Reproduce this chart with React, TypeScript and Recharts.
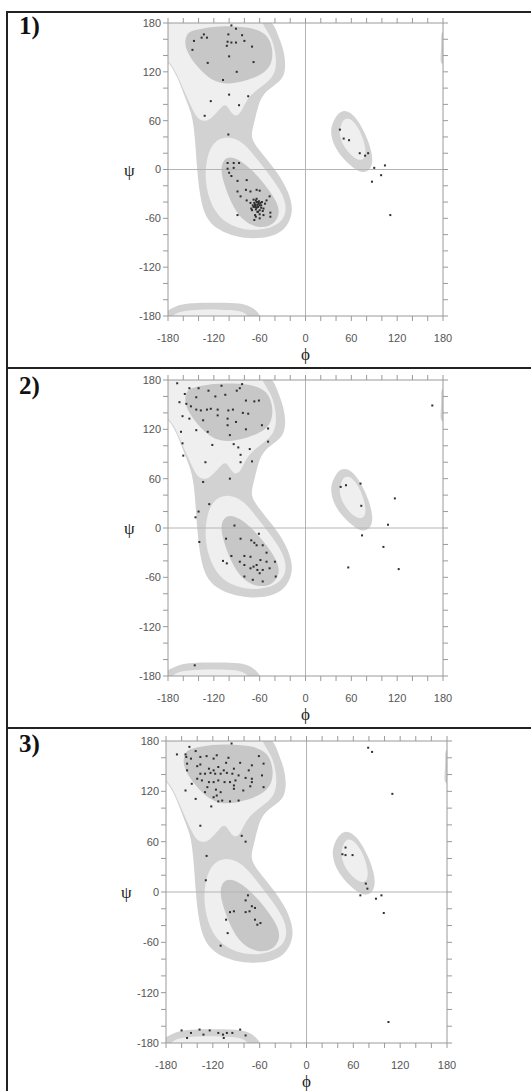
import React from 'react';
import { ScatterChart, Scatter, XAxis, YAxis, ReferenceLine } from 'recharts';

// ---------- axis ticks ----------
const angleTicks = [-180, -160, -140, -120, -100, -80, -60, -40, -20, 0, 20, 40, 60, 80, 100, 120, 140, 160, 180];
const labelledTicks = [-180, -120, -60, 0, 60, 120, 180];
const panelTags = ['1)', '2)', '3)'];

// ---------- Ramachandran region outlines (phi, psi) ----------
const leftOuter = [
  [-200, 200], [-50, 200], [-36, 165], [-29, 149], [-25.5, 128], [-29, 112], [-40, 104], [-55, 94], [-62, 79],
  [-66, 62], [-70, 48], [-71, 38], [-62, 25], [-44, 5], [-28, -16], [-18, -38], [-17, -56], [-27, -75], [-48, -84],
  [-75, -85], [-97, -81], [-117, -73], [-131, -59], [-138, -35], [-142, 0], [-144, 30], [-146, 50], [-149, 69],
  [-158, 89], [-166, 110], [-177, 130], [-190, 140], [-200, 145],
];
const betaLight = [
  [-200, 200], [-62, 200], [-58, 180], [-46, 165], [-40, 149], [-37.5, 128], [-43, 112], [-58, 102], [-71, 92],
  [-79, 82], [-84, 71], [-90, 65], [-96, 68], [-101, 76], [-105, 80], [-110, 77], [-118, 68], [-126, 61], [-133, 59],
  [-141, 62], [-147, 72], [-155, 88], [-164, 108], [-172, 124], [-180, 134], [-194, 144], [-200, 150],
];
const betaCore = [
  [-147, 171], [-121, 176], [-94, 176], [-67, 174], [-50, 166], [-43, 150], [-43, 132], [-53, 118], [-77, 109],
  [-103, 104], [-122, 109], [-138, 122], [-153, 140], [-159, 155], [-155, 168],
];
const alphaLight = [
  [-103, 42], [-81, 34], [-63, 12], [-45, -9], [-29, -31], [-24, -50], [-32, -67], [-60, -76], [-92, -72],
  [-114, -59], [-127, -36], [-132, -9], [-129, 16], [-121, 34],
];
const alphaCore = [
  [-104, 17], [-87, 13], [-68, -2], [-50, -22], [-37, -40], [-33, -56], [-44, -70], [-64, -72], [-84, -62],
  [-98, -40], [-107, -17], [-112, 3],
];
const rightOuter = [
  [47, 72], [40, 66], [34, 54], [33, 44], [37, 30], [45, 18], [56, 7], [67, -1], [76, -4], [84, -1], [88, 8],
  [87, 20], [82, 36], [74, 52], [64, 66], [55, 72],
];
const rightLight = [
  [50, 62], [46, 54], [44, 44], [48, 32], [55, 22], [64, 14], [72, 11], [78, 14], [79, 24], [76, 36], [70, 50],
  [62, 60], [56, 63],
];
const bottomOuter = [
  [-192, -200], [-190, -178], [-176, -171], [-165, -166], [-150, -164], [-120, -163.5], [-90, -164], [-75, -166.5],
  [-66, -172], [-58, -180], [-52, -200],
];
const bottomLight = [
  [-182, -200], [-176, -180], [-165, -174], [-140, -172], [-110, -172], [-86, -173], [-73, -179], [-67, -200],
];
const edgeSliver = [
  [177, 172], [178, 158], [177, 140], [176, 128], [192, 128], [192, 172],
];

// ---------- residues (phi, psi) ----------
const panel1Residues = [
  [-97, 177], [-91, 173], [-133, 166], [-136, 162], [-129, 162], [-146, 158], [-101, 166], [-83, 165], [-80, 158],
  [-102, 157], [-103, 152], [-91, 156], [-97, 156], [-148, 147], [-70, 151], [-100, 139], [-128, 131], [-68, 132],
  [-90, 120], [-108, 110], [-100, 92], [-75, 90], [-124, 84], [-87, 79], [-132, 66], [-101, 43],
  [-102, 8], [-94, 8], [-87, 8], [-102, 1], [-94, 2], [-100, -4], [-89, -14], [-77, -13], [-97, -8], [-89, -27],
  [-78, -25], [-85, -33], [-72, -27], [-64, -25], [-60, -26], [-47, -33], [-77, -38], [-68, -37], [-64, -40],
  [-66, -44], [-62, -46], [-60, -50], [-55, -48], [-70, -50], [-66, -56], [-55, -56], [-46, -53], [-46, -58],
  [-67, -62], [-60, -60], [-89, -56], [-53, -42], [-51, -38], [-72, -41], [-68, -46], [-63, -52], [-58, -44],
  [-65, -49], [-62, -40], [-65, -38], [-60, -44], [-66, -46], [-63, -43], [-61, -39], [-67, -41], [-58, -47],
  [-64, -36], [-62, -52], [-57, -40], [-69, -44], [-71, -48], [-56, -51], [-60, -55], [-65, -58], [-63, -45],
  [-61, -42], [-64, -47], [-59, -41], [-66, -43],
  [45, 49], [50, 38], [57, 36], [71, 20], [78, 17], [82, 20], [90, 2], [104, 5], [99, -7], [87, -15], [111, -56],
];
const panel2Residues = [
  [-168, 176], [-152, 170], [-140, 170], [-110, 173], [-83, 175], [-86, 170], [-90, 167], [-158, 163], [-143, 159],
  [-127, 167], [-118, 160], [-105, 162], [-78, 155], [-67, 154], [-61, 155], [-165, 153], [-156, 151], [-150, 148],
  [-143, 144], [-137, 143], [-129, 144], [-124, 145], [-115, 144], [-101, 143], [-95, 144], [-82, 140], [-75, 139],
  [-161, 136], [-152, 133], [-134, 131], [-115, 137], [-102, 133], [-91, 129], [-102, 125], [-78, 120], [-57, 125],
  [-49, 121], [-143, 119], [-128, 117], [-99, 113], [-122, 101], [-94, 102], [-88, 98], [-73, 96], [-163, 117],
  [-161, 103], [-160, 88], [-49, 105], [-85, 89], [-85, 80], [-70, 81], [-131, 80], [-99, 60], [-134, 56],
  [-126, 29], [-140, 20], [-144, 13], [-139, -17],
  [-93, 3], [-104, -13], [-85, -13], [-71, -15], [-67, -18], [-61, -7], [-64, -21], [-56, -21], [-97, -34],
  [-80, -34], [-72, -35], [-51, -30], [-108, -40], [-103, -43], [-86, -41], [-80, -45], [-64, -45], [-59, -39],
  [-51, -41], [-40, -41], [-47, -49], [-63, -51], [-60, -55], [-80, -59], [-69, -63], [-56, -65], [-39, -59],
  [-68, -47], [-56, -51], [-72, -49],
  [46, 50], [53, 52], [72, 54], [73, 27], [74, -9], [117, 36], [108, 4], [102, -23], [122, -50], [56, -48],
  [166, 149], [-145, -167],
];
const panel3Residues = [
  [-150, 173], [-166, 164], [-155, 164], [-154, 161], [-148, 159], [-142, 168], [-136, 161], [-128, 162], [-115, 163],
  [-100, 160], [-85, 154], [-70, 151], [-55, 153], [-153, 153], [-140, 150], [-136, 152], [-125, 147], [-119, 145],
  [-113, 149], [-106, 145], [-93, 147], [-74, 145], [-136, 141], [-130, 141], [-123, 142], [-117, 141], [-110, 141],
  [-102, 142], [-95, 141], [-87, 139], [-78, 136], [-70, 135], [-57, 139], [-140, 135], [-134, 133], [-125, 131],
  [-119, 131], [-113, 133], [-105, 131], [-98, 131], [-91, 133], [-70, 131], [-55, 125], [-147, 129], [-127, 125],
  [-116, 122], [-110, 119], [-93, 123], [-81, 121], [-72, 126], [-155, 121], [-142, 111], [-115, 115], [-108, 109],
  [-98, 108], [-87, 109], [-122, 102], [-113, 108], [-136, 79], [-83, 67], [-78, 60], [-128, 43], [-129, 14],
  [-96, 177], [-61, 162], [-119, 159], [-103, 154], [-153, 145], [-93, 127], [-130, 119], [-119, 113],
  [-75, -4], [-78, -10], [-70, -17], [-66, -19], [-73, -23], [-78, -24], [-93, -23], [-98, -24], [-103, -33],
  [-66, -33], [-59, -37], [-63, -39], [-101, -49], [-110, -64],
  [50, 53], [46, 45], [50, 44], [59, 44], [76, 10], [78, 4], [69, -4], [89, -8], [96, -4], [99, -25],
  [79, 172], [84, 167], [110, 117], [105, -155],
  [-160, -165], [-153, -174], [-148, -168], [-137, -164], [-132, -170], [-124, -165], [-113, -168], [-107, -170],
  [-102, -168], [-95, -168], [-85, -164], [-78, -171], [-106, -174],
];

// ---------- build records ----------
type Pt = { phi: number; psi: number };
const toPts = (arr: number[][]): Pt[] => arr.map(([phi, psi]) => ({ phi, psi }));

const OUTER = '#d2d2d2';
const LIGHT = '#efefef';
const CORE = '#c7c7c7';

const regions = [
  { name: 'leftOuter', data: toPts(leftOuter), color: OUTER },
  { name: 'bottomOuter', data: toPts(bottomOuter), color: OUTER },
  { name: 'rightOuter', data: toPts(rightOuter), color: OUTER },
  { name: 'edgeSliver', data: toPts(edgeSliver), color: OUTER },
  { name: 'betaLight', data: toPts(betaLight), color: LIGHT },
  { name: 'alphaLight', data: toPts(alphaLight), color: LIGHT },
  { name: 'rightLight', data: toPts(rightLight), color: LIGHT },
  { name: 'bottomLight', data: toPts(bottomLight), color: LIGHT },
  { name: 'betaCore', data: toPts(betaCore), color: CORE },
  { name: 'alphaCore', data: toPts(alphaCore), color: CORE },
];

const panels = [
  { tag: panelTags[0], residues: toPts(panel1Residues), top: 0, height: 365, tagTop: 13,
    margin: { top: 18, right: 78, bottom: 9, left: 128 }, psiOffset: -4 },
  { tag: panelTags[1], residues: toPts(panel2Residues), top: 360, height: 365, tagTop: 373,
    margin: { top: 15, right: 78, bottom: 9, left: 128 }, psiOffset: -4 },
  { tag: panelTags[2], residues: toPts(panel3Residues), top: 720, height: 371, tagTop: 731,
    margin: { top: 16, right: 74, bottom: 8, left: 126 }, psiOffset: -5 },
];

const fmt = (v: number) => (labelledTicks.includes(v) ? String(v) : '');
const blank = () => '';
const tickStyle = { fill: '#555', fontSize: 11, fontFamily: 'Liberation Sans, Arial, sans-serif' };
const greekStyle = { fill: '#222', fontSize: 17, fontFamily: 'Liberation Serif, DejaVu Serif, serif' };

const NoShape = () => <g />;
const ResidueDot = (props: any) => (
  <rect x={props.cx - 1} y={props.cy - 1} width={2} height={2} fill="#2e2e2e" />
);

function Panel(p: (typeof panels)[number]) {
  return (
    <div style={{ position: 'absolute', left: 0, top: p.top, width: 531, height: p.height }}>
      <ScatterChart width={531} height={p.height} margin={p.margin}>
        <XAxis
          xAxisId="b" type="number" dataKey="phi" domain={[-180, 180]} allowDataOverflow ticks={angleTicks}
          interval={0} tickFormatter={fmt} height={40} tickSize={5} tickMargin={13} stroke="#9a9a9a" tick={tickStyle}
          label={{ value: 'ϕ', position: 'insideBottom', offset: -4, ...greekStyle }}
        />
        <XAxis
          xAxisId="t" orientation="top" type="number" dataKey="phi" domain={[-180, 180]} allowDataOverflow
          ticks={angleTicks} interval={0} tickFormatter={blank} height={5} tickSize={5} stroke="#9a9a9a" tick={tickStyle}
        />
        <YAxis
          yAxisId="l" type="number" dataKey="psi" domain={[-180, 180]} allowDataOverflow ticks={angleTicks}
          interval={0} tickFormatter={fmt} width={40} tickSize={5} tickMargin={2} stroke="#9a9a9a" tick={tickStyle}
          label={{ value: 'ψ', position: 'insideLeft', offset: p.psiOffset, ...greekStyle }}
        />
        <YAxis
          yAxisId="r" orientation="right" type="number" dataKey="psi" domain={[-180, 180]} allowDataOverflow
          ticks={angleTicks} interval={0} tickFormatter={blank} width={10} tickSize={5} stroke="#9a9a9a" tick={tickStyle}
        />
        {regions.map((r) => (
          <Scatter
            key={r.name} name={r.name} xAxisId="b" yAxisId="l" data={r.data} dataKey="psi" fill={r.color}
            line={{ fill: r.color, stroke: 'none' }} lineType="joint" lineJointType="basisClosed"
            shape={NoShape} isAnimationActive={false} zIndex={100}
          />
        ))}
        <ReferenceLine xAxisId="b" yAxisId="l" x={0} stroke="#b4b4b4" strokeWidth={1} zIndex={450} />
        <ReferenceLine xAxisId="b" yAxisId="l" y={0} stroke="#b4b4b4" strokeWidth={1} zIndex={450} />
        <Scatter
          name="residues" xAxisId="b" yAxisId="l" data={p.residues} dataKey="psi" fill="#2e2e2e"
          shape={ResidueDot} isAnimationActive={false} zIndex={700}
        />
      </ScatterChart>
      <div
        style={{
          position: 'absolute', left: 19, top: p.tagTop - p.top, fontFamily: 'Liberation Serif, serif',
          fontWeight: 'bold', fontSize: 25, lineHeight: '25px', color: '#111',
        }}
      >
        {p.tag}
      </div>
    </div>
  );
}

export default function App() {
  return (
    <div style={{ position: 'absolute', left: 0, top: 0, width: 531, height: 1091, background: '#fff', overflow: 'hidden' }}>
      {panels.map((p) => (
        <Panel key={p.tag} {...p} />
      ))}
      {/* table frame */}
      <div style={{ position: 'absolute', left: 6, top: 11, width: 525, height: 2, background: '#222' }} />
      <div style={{ position: 'absolute', left: 6, top: 367, width: 525, height: 2, background: '#222' }} />
      <div style={{ position: 'absolute', left: 6, top: 727, width: 525, height: 2, background: '#222' }} />
      <div style={{ position: 'absolute', left: 6, top: 11, width: 2, height: 1080, background: '#222' }} />
    </div>
  );
}
